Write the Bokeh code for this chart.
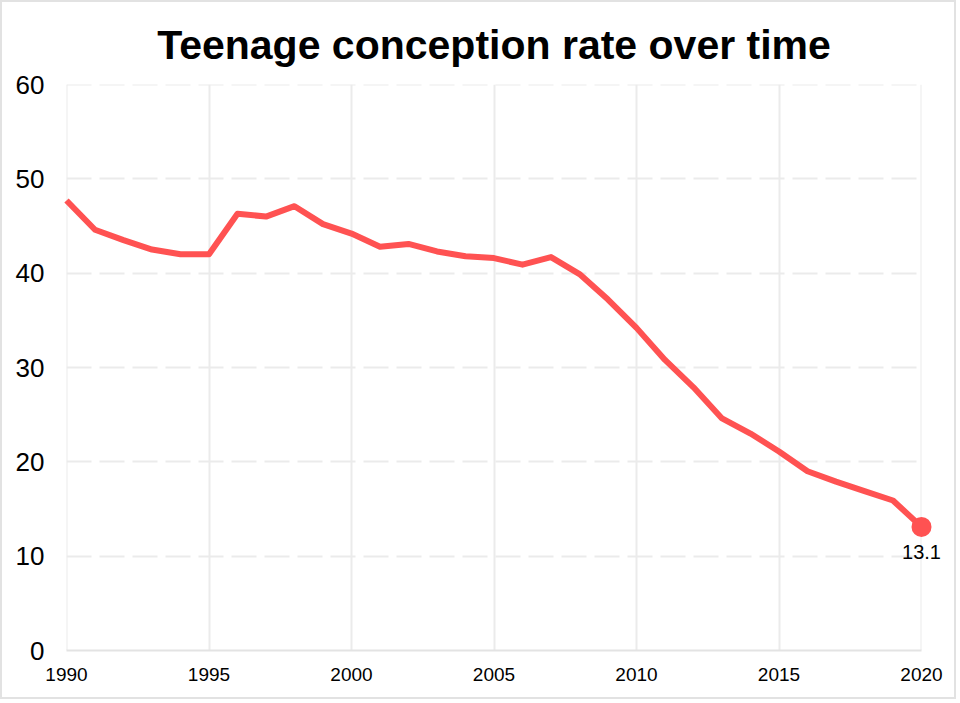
from bokeh.plotting import figure
from bokeh.models import FixedTicker, Range1d, ColumnDataSource, Span
from bokeh.core.properties import value
from bokeh.embed import file_html
from bokeh.resources import INLINE

years = list(range(1990, 2021))
rates = [47.7, 44.6, 43.5, 42.5, 42.0, 42.0, 46.3, 46.0, 47.1, 45.2,
         44.2, 42.8, 43.1, 42.3, 41.8, 41.6, 40.9, 41.7, 39.9, 37.2,
         34.2, 30.8, 27.9, 24.6, 23.0, 21.1, 19.0, 17.9, 16.9, 15.9,
         13.1]
x_ticks = [1990, 1995, 2000, 2005, 2010, 2015, 2020]
y_ticks = [0, 10, 20, 30, 40, 50, 60]
title_text = "Teenage conception rate over time"
last_label = "13.1"

FONT = "Liberation Sans"
RED = "#ff5252"
GRID = "#ebebeb"
B = 2  # page border width
W, H = 960 - 2 * B, 703 - 2 * B

p = figure(width=W, height=H, output_backend="svg", toolbar_location=None,
           x_range=Range1d(x_ticks[0], x_ticks[-1]),
           y_range=Range1d(y_ticks[0], y_ticks[-1]),
           min_border_left=66 - B, min_border_right=39 - B,
           min_border_bottom=53 - B, min_border_top=84 - B)
p.styles = {"border": f"{B}px solid #e2e2e2"}
p.outline_line_color = None
p.background_fill_color = "white"
p.border_fill_color = "white"

p.title.text = title_text
p.title.text_font = FONT
p.title.text_font_size = "41px"
p.title.text_font_style = "bold"
p.title.align = "center"
p.title.vertical_align = "bottom"
p.title.text_color = "black"
p.title.standoff = 34

p.xaxis.ticker = FixedTicker(ticks=x_ticks)
p.yaxis.ticker = FixedTicker(ticks=y_ticks)
p.xaxis.minor_tick_line_color = None
p.yaxis.minor_tick_line_color = None
p.xaxis.major_tick_line_color = None
p.yaxis.major_tick_line_color = None
p.xaxis.major_tick_out = 0
p.yaxis.major_tick_out = 0
p.xaxis.major_tick_in = 0
p.yaxis.major_tick_in = 0
p.yaxis.axis_line_color = None
p.xaxis.axis_line_color = "#e3e3e3"
p.xaxis.axis_line_width = 2
p.xaxis.major_label_text_font = FONT
p.yaxis.major_label_text_font = FONT
p.xaxis.major_label_text_font_size = "19px"
p.yaxis.major_label_text_font_size = "26px"
p.xaxis.major_label_text_color = "black"
p.yaxis.major_label_text_color = "black"
p.xaxis.major_label_standoff = 17
p.yaxis.major_label_standoff = 22

p.xgrid.grid_line_color = GRID
p.xgrid.grid_line_width = 2
p.ygrid.grid_line_color = GRID
p.ygrid.grid_line_width = 2
p.ygrid.grid_line_dash = "25 8"
p.xgrid.level = "image"
p.ygrid.level = "image"

# grid lines at the range ends (Bokeh's grid skips them)
for xv in (x_ticks[0], x_ticks[-1]):
    p.add_layout(Span(location=xv, dimension="height", line_color=GRID,
                      line_width=2, level="image"))
p.add_layout(Span(location=y_ticks[-1], dimension="width", line_color=GRID,
                  line_width=2, line_dash="25 8", level="image"))

src = ColumnDataSource(dict(x=years, y=rates))
p.line("x", "y", source=src, line_color=RED, line_width=6, line_join="round",
       level="overlay")
end = ColumnDataSource(dict(x=[years[-1]], y=[rates[-1]], t=[last_label]))
p.scatter("x", "y", source=end, size=20, fill_color=RED, line_color=None,
          level="overlay")
p.text("x", "y", text="t", source=end, text_font=value(FONT),
       text_font_size="20px", text_align="center", text_baseline="top",
       y_offset=18, text_color="black", level="overlay")

open("out.html", "w").write(file_html(p, INLINE))
